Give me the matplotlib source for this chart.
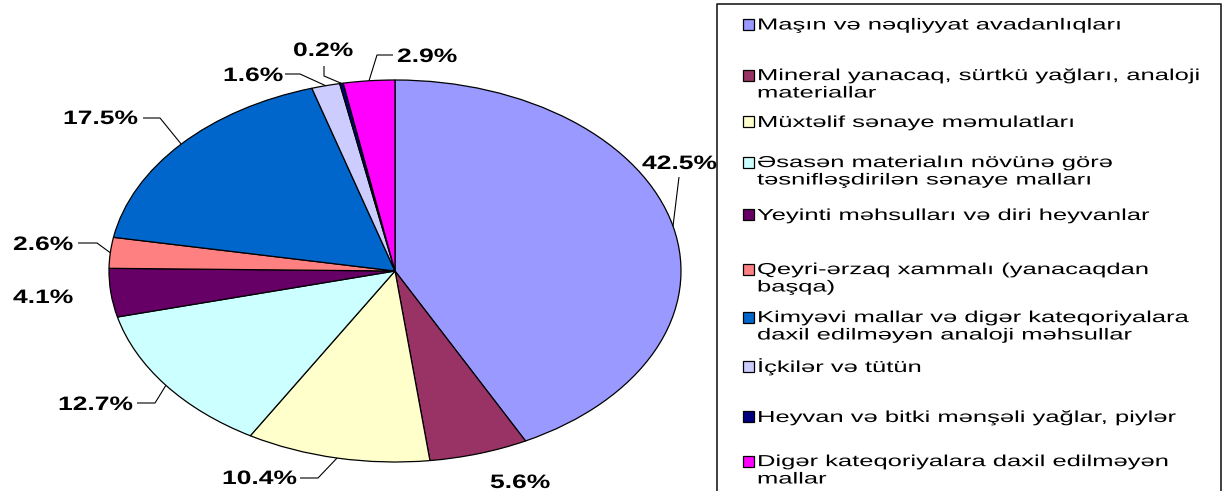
import matplotlib
matplotlib.use("Agg")
import numpy as np
import matplotlib.pyplot as plt
from matplotlib.patches import Rectangle
from matplotlib.patheffects import AbstractPathEffect
from matplotlib.transforms import Affine2D

# ---------------- data ----------------
categories = [
    "Maşın və nəqliyyat avadanlıqları",
    "Mineral yanacaq, sürtkü yağları, analoji\nmateriallar",
    "Müxtəlif sənaye məmulatları",
    "Əsasən materialın növünə görə\ntəsnifləşdirilən sənaye malları",
    "Yeyinti məhsulları və diri heyvanlar",
    "Qeyri-ərzaq xammalı (yanacaqdan\nbaşqa)",
    "Kimyəvi mallar və digər kateqoriyalara\ndaxil edilməyən analoji məhsullar",
    "İçkilər və tütün",
    "Heyvan və bitki mənşəli yağlar, piylər",
    "Digər kateqoriyalara daxil edilməyən\nmallar",
]
shares = [42.5, 5.6, 10.4, 12.7, 4.1, 2.6, 17.5, 1.6, 0.2, 2.9]
label_texts = ["42.5%", "5.6%", "10.4%", "12.7%", "4.1%", "2.6%", "17.5%", "1.6%", "0.2%", "2.9%"]
colors = ["#9999FF", "#993366", "#FFFFCC", "#CCFFFF", "#660066",
          "#FF8080", "#0066CC", "#CCCCFF", "#000080", "#FF00FF"]

# ---------------- layout (pixels, y from top) ----------------
W, H = 1223, 491
PIE_CX, PIE_CY, PIE_RX, PIE_RY = 395, 271, 286, 191
# label: left x, baseline y
label_pos = [(642, 169), (490, 488), (222, 484), (58, 410), (13, 303),
             (13, 250), (63, 124), (223, 81), (293, 56), (397, 62)]
# leader line knots (from label side towards the pie); None = no leader
leaders = [
    [(679, 177)],
    None,
    [(300, 478), (318, 478)],
    [(137, 403), (155, 403)],
    None,
    [(78, 243), (97, 243)],
    [(143, 118), (160, 118)],
    [(285, 74), (300, 74)],
    [(324, 66), (324, 76)],
    [(393, 55), (377, 55)],
]
LEG_BOX = (717, 4, 1221)
LEG_TEXT_X = 757
LEG_SQ_X, LEG_SQ = 743, 11
leg_baselines = [29.5, 81, 127, 168, 220, 275, 323, 372, 422, 467]
LEG_LINE_GAP = 16.5

LABEL_SX = 1.36
LEGEND_SX = 1.6


class HStretch(AbstractPathEffect):
    """Draw text stretched horizontally around its line origin."""
    def __init__(self, sx):
        super().__init__()
        self.sx = sx

    def draw_path(self, renderer, gc, tpath, affine, rgbFace=None):
        renderer.draw_path(gc, tpath, Affine2D().scale(self.sx, 1.0) + affine, rgbFace)


fig = plt.figure(figsize=(W / 100, H / 100), dpi=100)
fig.patch.set_facecolor("white")

ax = fig.add_axes([(PIE_CX - PIE_RX) / W, (H - PIE_CY - PIE_RY) / H,
                   2 * PIE_RX / W, 2 * PIE_RY / H])
wedges, _ = ax.pie(shares, colors=colors, startangle=90, counterclock=False,
                   radius=1.0, wedgeprops=dict(edgecolor="black", linewidth=0.9))
ax.set_aspect("auto")
ax.set_xlim(-1, 1)
ax.set_ylim(-1, 1)
ax.axis("off")

ov = fig.add_axes([0, 0, 1, 1], facecolor="none")
ov.set_xlim(0, W)
ov.set_ylim(H, 0)
ov.axis("off")

to_ov = ax.transData + ov.transData.inverted()

lab_font = dict(family="Liberation Sans", weight="bold", size=14)
for w, txt, (lx, ly), knots in zip(wedges, label_texts, label_pos, leaders):
    ov.text(lx, ly, txt, ha="left", va="baseline", color="black",
            path_effects=[HStretch(LABEL_SX)], **lab_font)
    if knots is not None:
        mid = np.deg2rad((w.theta1 + w.theta2) / 2)
        ex, ey = to_ov.transform((np.cos(mid), np.sin(mid)))
        xs = [p[0] for p in knots] + [ex]
        ys = [p[1] for p in knots] + [ey]
        ov.plot(xs, ys, color="black", lw=0.8, solid_capstyle="butt")

# legend box (bottom edge lies outside the picture)
x0, y0, x1 = LEG_BOX
ov.plot([x0, x0, x1, x1], [H + 5, y0, y0, H + 5], color="#202020", lw=1.2,
        clip_on=False)

for name, col, by in zip(categories, colors, leg_baselines):
    ov.add_patch(Rectangle((LEG_SQ_X, by - 5.5 - LEG_SQ / 2), LEG_SQ, LEG_SQ,
                           facecolor=col, edgecolor="black", lw=0.9))
    nlines = name.count("\n") + 1
    ov.text(LEG_TEXT_X, by + (nlines - 1) * LEG_LINE_GAP, name,
            ha="left", va="baseline", color="black",
            family="Liberation Sans", size=11.5, linespacing=1.2,
            path_effects=[HStretch(LEGEND_SX)])

fig.savefig("out.png", dpi=100, facecolor="white")
